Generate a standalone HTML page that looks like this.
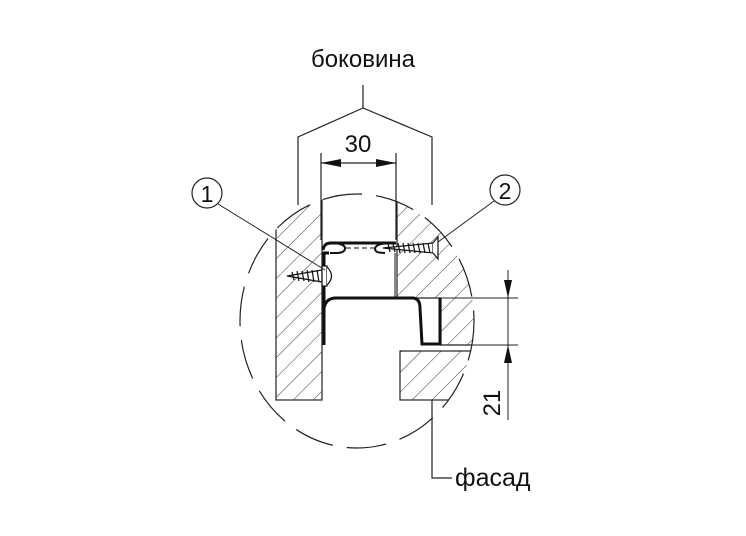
<!DOCTYPE html>
<html><head><meta charset="utf-8"><style>
html,body{margin:0;padding:0;background:#fff;}
svg{display:block;}
text{font-family:"Liberation Sans",sans-serif;fill:#111;}
</style></head><body>
<svg width="746" height="536" viewBox="0 0 746 536" xmlns="http://www.w3.org/2000/svg">
<defs>
<pattern id="h" patternUnits="userSpaceOnUse" width="14" height="14" patternTransform="rotate(45)">
<line x1="0" y1="0" x2="0" y2="14" stroke="#222" stroke-width="0.9"/>
</pattern>
<clipPath id="c"><ellipse cx="357" cy="321" rx="117" ry="127"/></clipPath>
</defs>
<g clip-path="url(#c)">
<rect x="276" y="190" width="46" height="210" fill="url(#h)" stroke="#222" stroke-width="1.2"/>
<path d="M397 190 L480 190 L480 345 L441 345 L441 298 L397 298 Z" fill="url(#h)" stroke="#222" stroke-width="1.2"/>
<rect x="400" y="351" width="80" height="49" fill="url(#h)" stroke="#222" stroke-width="1.2"/>
<rect x="323" y="200" width="73" height="97" fill="#fff"/>
</g>
<ellipse cx="357" cy="321" rx="117" ry="127" fill="none" stroke="#222" stroke-width="1.2" stroke-dasharray="40,14"/>
<polyline points="298,205 298,137 363,108 432,137 432,205" fill="none" stroke="#222" stroke-width="1.2"/>
<line x1="363" y1="85" x2="363" y2="108" stroke="#222" stroke-width="1.2"/>
<line x1="321" y1="153" x2="321" y2="240" stroke="#222" stroke-width="1.2"/>
<line x1="396" y1="153" x2="396" y2="240" stroke="#222" stroke-width="1.2"/>
<line x1="321" y1="163" x2="396" y2="163" stroke="#222" stroke-width="1.2"/>
<polygon points="321,163 341,159 341,167" fill="#111"/>
<polygon points="396,163 376,159 376,167" fill="#111"/>
<text x="358" y="152" font-size="24" text-anchor="middle">30</text>
<text x="363" y="67" font-size="24" text-anchor="middle">боковина</text>
<!-- profile top flange -->
<path d="M323 250 Q324 243 331 243 L396 243" fill="none" stroke="#111" stroke-width="3"/>
<path d="M336 243 Q346 245 345 249 Q344 253 336 253 L330 253" fill="none" stroke="#111" stroke-width="2"/>
<path d="M389 243 Q375 244 375 249 Q375 253 385 253" fill="none" stroke="#111" stroke-width="2"/>
<line x1="346" y1="248" x2="374" y2="248" stroke="#111" stroke-width="1" stroke-dasharray="5,3"/>
<path d="M329 253 L324 253 L324 345" fill="none" stroke="#111" stroke-width="3"/>
<line x1="395" y1="253" x2="395" y2="298" stroke="#888" stroke-width="2"/>
<path d="M324 308 Q326 298 336 298 L412 298 Q420 298 420 308 L422 344 L440 344 L440 298" fill="none" stroke="#111" stroke-width="3"/>
<!-- screw 1 -->
<g stroke="#111" stroke-width="1.2">
<polygon points="287,276 322,270 322,282" fill="#fff"/>
<line x1="292" y1="272" x2="294" y2="280"/><line x1="297" y1="271" x2="299" y2="281"/><line x1="302" y1="271" x2="304" y2="281"/><line x1="307" y1="270" x2="309" y2="282"/><line x1="312" y1="270" x2="314" y2="282"/><line x1="317" y1="270" x2="319" y2="282"/>
<rect x="322" y="266" width="5" height="20" fill="#fff"/>
<path d="M327 267 Q336 276 327 285" fill="#fff"/>
</g>
<!-- screw 2 -->
<g stroke="#111" stroke-width="1.2">
<polygon points="383,248 433,243 433,253" fill="#fff"/>
<line x1="388" y1="244" x2="390" y2="252"/><line x1="393" y1="244" x2="395" y2="252"/><line x1="398" y1="243" x2="400" y2="253"/><line x1="403" y1="243" x2="405" y2="253"/><line x1="408" y1="243" x2="410" y2="253"/><line x1="413" y1="243" x2="415" y2="253"/><line x1="418" y1="243" x2="420" y2="253"/><line x1="423" y1="243" x2="425" y2="253"/><line x1="428" y1="243" x2="430" y2="253"/>
<path d="M433 243 L438 237 L438 259 L433 253" fill="#fff"/>
</g>
<circle cx="207" cy="193" r="15" fill="#fff" stroke="#222" stroke-width="1.2"/>
<text x="207" y="202" font-size="23" text-anchor="middle">1</text>
<line x1="218" y1="204" x2="325" y2="270" stroke="#222" stroke-width="1"/>
<circle cx="505" cy="190" r="15" fill="#fff" stroke="#222" stroke-width="1.2"/>
<text x="505" y="199" font-size="23" text-anchor="middle">2</text>
<line x1="494" y1="201" x2="438" y2="242" stroke="#222" stroke-width="1"/>
<line x1="441" y1="298" x2="518" y2="298" stroke="#222" stroke-width="1"/>
<line x1="441" y1="345" x2="518" y2="345" stroke="#222" stroke-width="1"/>
<line x1="508" y1="270" x2="508" y2="420" stroke="#222" stroke-width="1"/>
<polygon points="508,298 504,280 512,280" fill="#111"/>
<polygon points="508,345 504,363 512,363" fill="#111"/>
<text transform="translate(500,403) rotate(-90)" font-size="24" text-anchor="middle">21</text>
<polyline points="432,400 432,478 452,478" fill="none" stroke="#222" stroke-width="1.2"/>
<text x="455" y="486" font-size="25">фасад</text>
</svg>
</body></html>
